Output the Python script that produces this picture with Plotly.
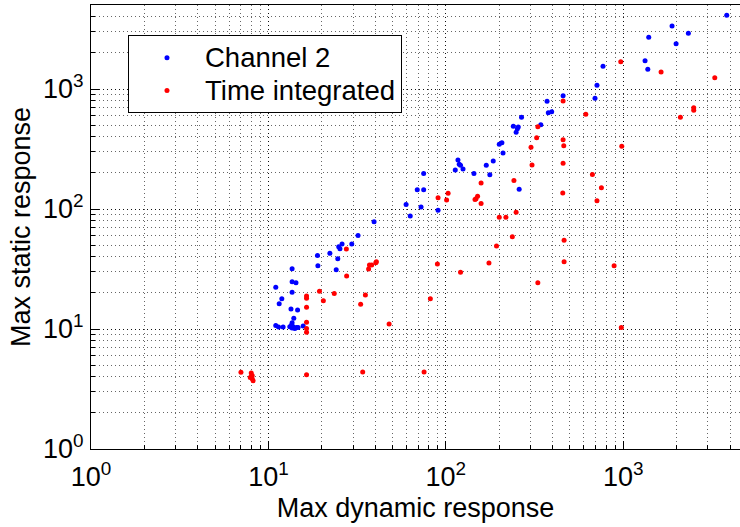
import plotly.graph_objects as go

# Channel 2 (blue)
ch2_x = [3830, 1884, 2328, 1392, 1985, 1327, 1375, 769, 711, 693, 458, 372, 378, 395,
         267, 343, 240, 256, 253, 249, 207, 210, 259, 200, 185, 169, 177, 144, 117, 119,
         125, 113, 121, 75, 69, 75, 59.7, 72.5, 63, 90.4, 39.4, 32, 29.5, 26, 24.9, 25.3,
         22.2, 18.9, 24.6, 19, 24.1, 13.6, 13.6, 14.3, 11, 13.6, 11.9, 11.5, 13.4, 14.6,
         13.9, 13.6, 13.5, 13.8, 13.2, 14.4, 14.1, 13.6, 14.7, 11.0, 11.4, 12.1, 15.7]
ch2_y = [4110, 3350, 2912, 2697, 2387, 1722, 1459, 1546, 1074, 836, 880, 789, 635, 647,
         581, 504, 489, 482, 467, 436, 357, 293, 146, 346, 251, 231, 193, 198, 256, 236,
         215, 211, 231, 198, 145, 145, 109, 104, 87.5, 97.5, 78.4, 60, 51, 51, 48.5, 46.7,
         42.7, 41, 38.5, 33.7, 31.2, 31.8, 24.8, 24.3, 22.3, 20.2, 17.9, 16.2, 14.7, 14.4,
         12.3, 11.3, 10.8, 10.45, 10.45, 10.3, 10.1, 10.2, 10.3, 10.7, 10.4, 10.4, 10.6]

# Time integrated (red)
ti_x = [968, 1634, 3280, 458, 2496, 2496, 615, 2099, 330, 325, 458, 462, 302, 981, 458,
        306, 242, 670, 753, 456, 711, 158, 103, 90.4, 101, 151, 148, 146, 158, 249, 200,
        218, 237, 193, 27.5, 37.1, 38.2, 36.7, 40.6, 40.3, 27.6, 19.4, 23.5, 20.4, 35.2,
        33.1, 16.4, 16.4, 16.4, 16.4, 16.4, 16.4, 7.0, 8.0, 8.1, 7.9, 8.1, 8.2, 8.0, 16.4,
        34, 75.4, 464, 89.6, 175, 464, 121, 330, 81.8, 47.9, 888, 975]
ti_y = [1689, 1386, 1243, 794, 699, 664, 615, 581, 485, 393, 378, 337, 327, 333, 240,
        233, 173, 194, 150, 136, 117, 165, 135, 124, 119, 128, 122, 120, 111, 94, 85.3,
        85.3, 58.8, 49.2, 46.4, 34.1, 34.1, 31.6, 36.4, 35.7, 27.7, 20.6, 19.8, 17.2, 19.2,
        16.1, 18.8, 18.0, 15.2, 11.4, 10.1, 9.4, 4.36, 4.3, 4.1, 3.95, 3.85, 3.7, 4.0, 4.16,
        4.38, 4.38, 54.8, 34.8, 35.5, 36.4, 29.7, 24.3, 17.9, 11.0, 33.7, 10.3]

series_names = ["Channel 2", "Time integrated"]

major_vals = [1, 10, 100, 1000]
major_text = ["10<sup>0</sup>", "10<sup>1</sup>", "10<sup>2</sup>", "10<sup>3</sup>"]
minor_vals = [m * 10 ** e for e in range(0, 4) for m in range(2, 10)]

FONT = "Liberation Sans, Arial, sans-serif"


def leg_name(s):
    return '<span style="font-size:27.5px">' + s + '</span>'


fig = go.Figure()
fig.add_trace(go.Scatter(x=ch2_x, y=ch2_y, mode="markers", name=leg_name(series_names[0]),
                         marker=dict(color="#0000FF", size=5, symbol="circle")))
fig.add_trace(go.Scatter(x=ti_x, y=ti_y, mode="markers", name=leg_name(series_names[1]),
                         marker=dict(color="#FF0000", size=5, symbol="circle")))

axis_common = dict(
    type="log",
    tickvals=major_vals, ticktext=major_text,
    ticks="inside", ticklen=8, tickcolor="black", tickwidth=1,
    showline=True, linecolor="black", linewidth=1,
    showgrid=True, gridcolor="#111111", griddash="1px,3px", gridwidth=1,
    zeroline=False,
    tickfont=dict(family=FONT, size=27, color="black"),
    minor=dict(tickvals=minor_vals, ticks="inside", ticklen=4, tickcolor="black",
               showgrid=True, gridcolor="#666666", griddash="1px,3px", gridwidth=1),
)

fig.update_xaxes(**axis_common, range=[0, 3.658], mirror=True,
                 title=dict(text="Max dynamic response", font=dict(family=FONT, size=27, color="black"),
                            standoff=6),
                 ticklabelstandoff=4)
fig.update_yaxes(**axis_common, range=[0, 3.7], mirror=False,
                 title=dict(text="Max static response", font=dict(family=FONT, size=27, color="black"),
                            standoff=4),
                 ticklabelstandoff=1)

fig.update_layout(
    width=740, height=527,
    margin=dict(l=91, r=0, t=5, b=78),
    paper_bgcolor="white", plot_bgcolor="white",
    font=dict(family=FONT, color="black"),
    legend=dict(x=0.057, y=0.932, xanchor="left", yanchor="top",
                bgcolor="white", bordercolor="black", borderwidth=1,
                font=dict(family=FONT, size=23, color="black"),
                itemwidth=66),
    showlegend=True,
)

fig.write_html("out.html")
